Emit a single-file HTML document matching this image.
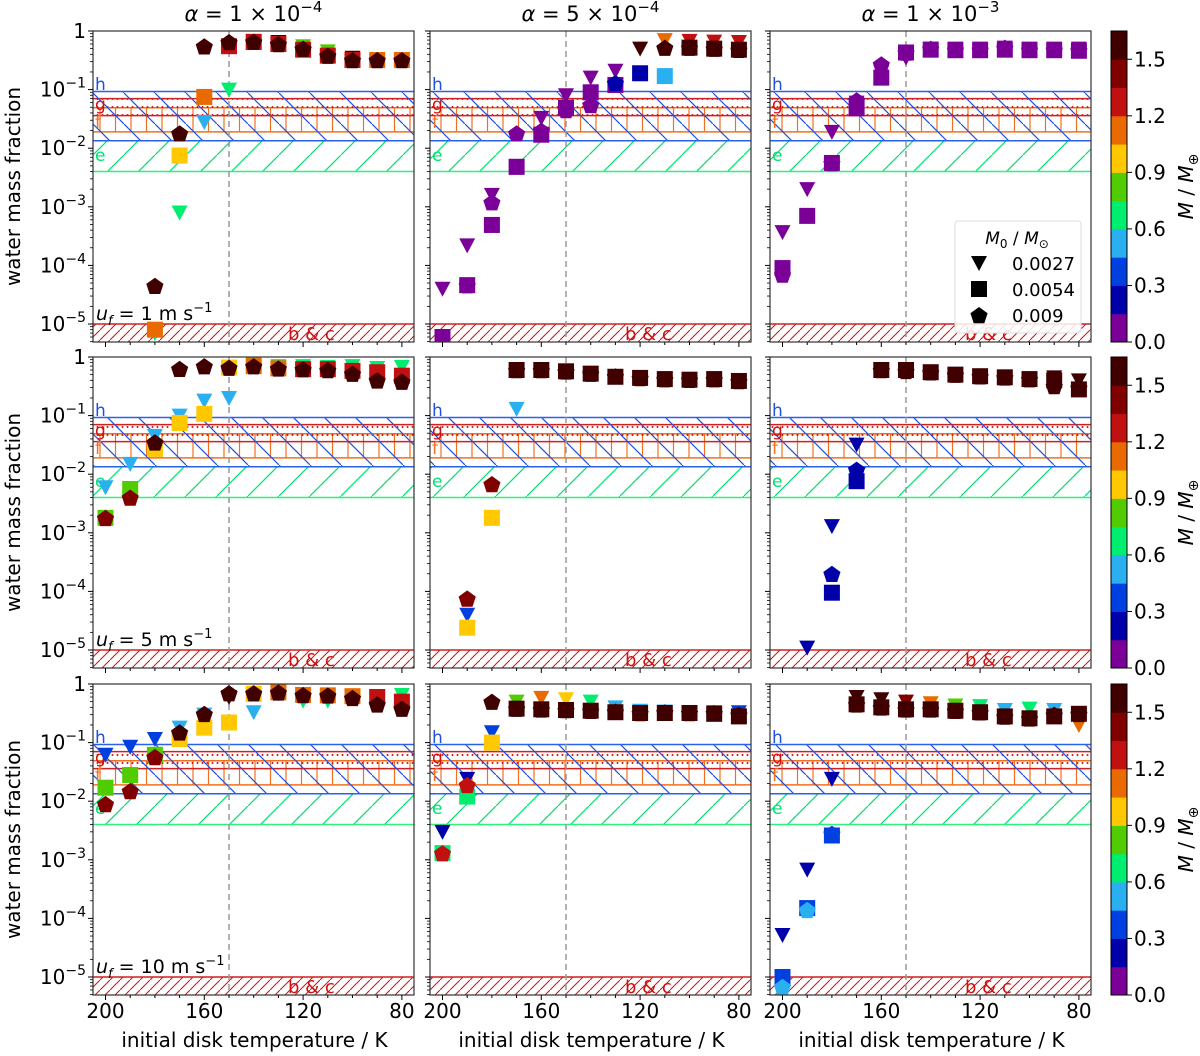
<!DOCTYPE html>
<html><head><meta charset="utf-8">
<style>
html,body{margin:0;padding:0;background:#fff;}
svg{display:block;font-family:"DejaVu Sans","Liberation Sans",sans-serif;}
</style></head>
<body>
<svg id="chart" width="1200" height="1056" viewBox="0 0 1200 1056" xmlns="http://www.w3.org/2000/svg">
<defs>
<pattern id="patH" patternUnits="userSpaceOnUse" width="31" height="31"><path d="M-1,-1 L32,32" stroke="#2050e0" stroke-width="1.2"/></pattern>
<pattern id="patE" patternUnits="userSpaceOnUse" width="31" height="31"><path d="M-1,32 L32,-1" stroke="#00e070" stroke-width="1.2"/></pattern>
<pattern id="patF" patternUnits="userSpaceOnUse" width="15.5" height="40"><path d="M7,0 L7,40" stroke="#f07020" stroke-width="1.2"/></pattern>
<pattern id="patG" patternUnits="userSpaceOnUse" width="5" height="8"><circle cx="2.5" cy="3" r="1" fill="#d01010"/></pattern>
<pattern id="patB" patternUnits="userSpaceOnUse" width="10" height="10"><path d="M-1,11 L11,-1" stroke="#d01010" stroke-width="1"/></pattern>
</defs>
</svg>
<script>
const temps = [200,190,180,170,160,150,140,130,120,110,100,90,80];
const triW = [
 [null,null,7e-6,8e-4,0.028,0.1,0.68,0.65,0.55,0.45,0.35,0.32,0.32],
 [4e-5,2.2e-4,1.6e-3,5e-3,0.033,0.08,0.16,0.21,0.5,0.7,0.68,0.66,0.65],
 [3.7e-4,2e-3,0.019,0.06,0.2,0.35,0.5,0.5,0.5,0.52,0.5,0.5,0.5],
 [6e-3,0.015,0.045,0.1,0.18,0.2,0.75,0.7,0.7,0.68,0.7,0.65,0.68],
 [null,4e-5,null,0.13,0.6,0.57,0.52,0.46,0.44,0.42,0.41,0.42,0.39],
 [null,1.1e-5,1.3e-3,0.032,0.6,0.6,0.55,0.5,0.47,0.45,0.42,0.45,0.4],
 [0.062,0.085,0.115,0.18,0.3,0.6,0.33,0.7,0.52,0.52,0.6,0.6,0.65],
 [3e-3,0.024,0.15,0.5,0.58,0.55,0.5,0.4,0.35,0.34,0.33,0.33,0.33],
 [5.2e-5,6.8e-4,0.024,0.6,0.55,0.5,0.47,0.43,0.42,0.36,0.38,0.36,0.2]
];
const triM = [
 [null,null,0.65,0.65,0.5,0.65,1.55,1.55,0.8,0.8,1.55,1.55,1.55],
 [0.05,0.05,0.05,0.05,0.05,0.05,0.05,0.05,1.55,1.1,1.25,1.25,1.25],
 [0.05,0.05,0.05,0.05,0.05,0.05,0.05,0.05,0.05,0.05,0.05,0.05,0.05],
 [0.5,0.5,0.5,0.5,0.5,0.5,0.65,0.65,0.65,0.65,0.65,0.65,0.65],
 [null,0.35,null,0.5,1.55,1.55,1.55,1.55,1.55,1.55,1.55,1.55,1.55],
 [null,0.2,0.2,0.2,1.55,1.55,1.55,1.55,1.55,1.55,1.55,1.55,1.55],
 [0.35,0.35,0.35,0.5,0.5,1.55,0.5,1.55,0.65,0.65,0.65,1.55,0.65],
 [0.2,0.2,0.35,0.8,1.1,0.95,0.65,0.5,0.5,0.5,0.5,0.35,0.35],
 [0.2,0.2,0.2,1.55,1.55,1.4,1.1,0.8,0.65,0.5,0.65,0.5,1.1]
];
const sqW = [
 [null,null,8e-6,0.0075,0.075,0.55,0.65,0.6,0.48,0.38,0.32,0.32,0.32],
 [6e-6,4.6e-5,4.9e-4,4.8e-3,0.017,0.049,0.09,0.12,0.19,0.17,0.52,0.5,0.48],
 [9e-5,7e-4,5.6e-3,0.048,0.16,0.43,0.48,0.47,0.47,0.48,0.47,0.47,0.46],
 [1.8e-3,5.6e-3,0.027,0.075,0.107,0.66,0.7,0.64,0.62,0.62,0.58,0.55,0.48],
 [null,2.4e-5,1.8e-3,0.6,0.6,0.57,0.52,0.46,0.44,0.42,0.41,0.42,0.39],
 [null,null,9.5e-5,7.6e-3,0.6,0.6,0.55,0.5,0.47,0.45,0.42,0.4,0.28],
 [0.017,0.028,0.062,0.115,0.18,0.22,0.68,0.72,0.65,0.64,0.62,0.6,0.5],
 [1.3e-3,0.012,0.1,0.38,0.37,0.36,0.35,0.33,0.32,0.32,0.32,0.31,0.28],
 [1e-5,1.5e-4,2.6e-3,0.45,0.4,0.37,0.37,0.35,0.33,0.28,0.26,0.28,0.31]
];
const sqM = [
 [null,null,1.1,0.95,1.1,1.25,1.25,1.25,1.25,1.25,1.25,1.1,1.1],
 [0.05,0.05,0.05,0.05,0.05,0.05,0.05,0.05,0.2,0.5,1.55,1.55,1.55],
 [0.05,0.05,0.05,0.05,0.05,0.05,0.05,0.05,0.05,0.05,0.05,0.05,0.05],
 [0.8,0.8,0.95,0.95,0.95,0.95,1.1,1.1,1.25,1.25,1.25,1.25,1.25],
 [null,0.95,0.95,1.55,1.55,1.55,1.55,1.55,1.55,1.55,1.55,1.55,1.55],
 [null,null,0.2,0.2,1.55,1.55,1.55,1.55,1.55,1.55,1.55,1.55,1.55],
 [0.8,0.8,0.8,0.95,0.95,0.95,0.95,1.1,1.1,1.1,1.1,1.25,1.25],
 [0.65,0.65,0.95,1.55,1.55,1.55,1.55,1.55,1.55,1.55,1.55,1.55,1.55],
 [0.35,0.35,0.35,1.55,1.55,1.55,1.55,1.55,1.55,1.55,1.55,1.55,1.55]
];
const penW = [
 [null,null,4.5e-5,0.018,0.55,0.65,0.66,0.6,0.5,0.38,0.32,0.32,0.32],
 [null,4.6e-5,1.2e-3,0.018,0.02,0.045,0.055,0.13,null,0.52,0.52,0.5,0.48],
 [7e-5,null,5.6e-3,0.066,0.27,0.43,0.5,0.48,0.48,0.52,0.48,0.48,0.47],
 [1.8e-3,4e-3,0.035,0.63,0.7,0.66,0.7,0.64,0.62,0.6,0.52,0.4,0.38],
 [null,7.6e-5,6.8e-3,0.6,0.6,0.57,0.52,0.47,0.44,0.42,0.41,0.42,0.39],
 [null,null,2e-4,0.012,0.6,0.58,0.55,0.5,0.47,0.45,0.42,0.32,0.3],
 [9e-3,0.015,0.057,0.15,0.31,0.7,0.7,0.72,0.65,0.64,0.58,0.45,0.38],
 [1.3e-3,0.019,0.5,0.38,0.37,0.36,0.35,0.34,0.32,0.33,0.32,0.32,0.3],
 [6.8e-6,1.4e-4,2.8e-3,0.45,0.4,0.37,0.37,0.35,0.33,0.28,0.26,0.3,0.31]
];
const penM = [
 [1.55,1.55,1.55,1.55,1.55,1.55,1.55,1.55,1.55,1.55,1.55,1.55,1.55],
 [0.05,0.05,0.05,0.05,0.05,0.05,0.05,0.2,1.55,1.55,1.55,1.55,1.55],
 [0.05,0.05,0.05,0.05,0.05,0.05,0.05,0.05,0.05,0.05,0.05,0.05,0.05],
 [1.4,1.4,1.55,1.55,1.55,1.55,1.55,1.55,1.55,1.55,1.55,1.55,1.55],
 [null,1.4,1.4,1.55,1.55,1.55,1.55,1.55,1.55,1.55,1.55,1.55,1.55],
 [null,null,0.2,0.2,1.55,1.55,1.55,1.55,1.55,1.55,1.55,1.55,1.55],
 [1.4,1.4,1.4,1.55,1.55,1.55,1.55,1.55,1.55,1.55,1.55,1.55,1.55],
 [1.25,1.25,1.55,1.55,1.55,1.55,1.55,1.55,1.55,1.55,1.55,1.55,1.55],
 [0.5,0.5,0.35,1.55,1.55,1.55,1.55,1.55,1.55,1.55,1.55,1.55,1.55]
];
const colTitles = ["1 × 10","5 × 10","1 × 10"];
const colExps = ["−4","−4","−3"];
const rowSpeeds = ["1","5","10"];
const xTicks = [200,160,120,80];
const cbTicks = [0.0,0.3,0.6,0.9,1.2,1.5];
const cmap = ['#7b0098','#0000aa','#0040e0','#2ab0f0','#00ee70','#50cc00','#ffc800','#e86a00','#c01010','#800000','#400000'];
const bandH = [0.093,0.0134], bandG = [0.07,0.036], bandF = [0.049,0.019], bandE = [0.0134,0.004], bandB = [1e-5];

const NS = "http://www.w3.org/2000/svg";
const svg = document.getElementById('chart');
function el(tag, attrs, parent, text){
  const e = document.createElementNS(NS, tag);
  for (const k in attrs) e.setAttribute(k, attrs[k]);
  if (text !== undefined) e.textContent = text;
  (parent||svg).appendChild(e);
  return e;
}
const colX = [93,430,770], rowY = [31,357,684], PW = 321, PH = 311, DEC = 58.6;
function xs(c,T){ return colX[c] + 12.5 + (200-T)*2.47; }
function ys(r,v){ return rowY[r] - Math.log10(v)*DEC; }
function mcol(m){ return cmap[Math.min(10, Math.max(0, Math.floor(m/0.15)))]; }

for (let r=0;r<3;r++) for (let c=0;c<3;c++){
  const p = r*3+c, L = colX[c], T0 = rowY[r], R = L+PW, B = T0+PH;
  const g = el('g', {});
  
  
  const cp = el('clipPath', {id:'clip'+p}, svg);
  el('rect', {x:L, y:T0, width:PW, height:PH}, cp);
  const inner = el('g', {'clip-path':'url(#clip'+p+')'}, g);
  function band(vals, fill, stroke, name){
    const y1 = ys(r, vals[0]), y2 = ys(r, vals[1]);
    const b = el('rect', {x:L, y:y1, width:PW, height:y2-y1, fill:fill}, inner);
    
    
    el('line', {x1:L, x2:R, y1:y1, y2:y1, stroke:stroke, 'stroke-width':1.5}, inner);
    el('line', {x1:L, x2:R, y1:y2, y2:y2, stroke:stroke, 'stroke-width':1.5}, inner);
  }
  band(bandE, 'url(#patE)', '#30f080', 'band-e');
  band(bandF, 'url(#patF)', '#f07020', 'band-f');
  band(bandG, 'url(#patG)', '#d02020', 'band-g');
  band(bandH, 'url(#patH)', '#2a60f0', 'band-h');
  const yb = ys(r, bandB[0]);
  const bc = el('rect', {x:L, y:yb, width:PW, height:B-yb, fill:'url(#patB)'}, inner);
  
  
  el('line', {x1:L, x2:R, y1:yb, y2:yb, stroke:'#d02020', 'stroke-width':1.5}, inner);
  const lbls = [['h','#2050e0',T0+59],['g','#d01010',T0+79],['f','#f07020',T0+97],['e','#00e070',T0+130]];
  lbls.forEach(lb=>{
    const t = el('text', {x:L+2, y:lb[2], fill:lb[1], 'font-size':17}, inner, lb[0]);
    
    
  });
  const bct = el('text', {x:L+195, y:B-2, fill:'#d01010', 'font-size':18}, inner, 'b & c');
  
  
  el('line', {x1:xs(c,150), x2:xs(c,150), y1:T0, y2:B, stroke:'#999', 'stroke-width':1.5, 'stroke-dasharray':'6,4'}, inner);
  temps.forEach((T,i)=>{
    if (triW[p][i]!=null){
      const x = xs(c,T), y = ys(r,triW[p][i]);
      const m = el('polygon', {points:(x-8)+','+(y-7)+' '+(x+8)+','+(y-7)+' '+x+','+(y+8), fill:mcol(triM[p][i])}, inner);
      
      
    }
  });
  temps.forEach((T,i)=>{
    if (sqW[p][i]!=null){
      const x = xs(c,T), y = ys(r,sqW[p][i]);
      const m = el('rect', {x:x-8, y:y-8, width:16, height:16, fill:mcol(sqM[p][i])}, inner);
      
      
    }
  });
  temps.forEach((T,i)=>{
    if (penW[p][i]!=null){
      const x = xs(c,T), y = ys(r,penW[p][i]);
      let pts = [];
      for (let k=0;k<5;k++){ const a = -Math.PI/2 + k*2*Math.PI/5; pts.push((x+9*Math.cos(a)).toFixed(1)+','+(y+1+9*Math.sin(a)).toFixed(1)); }
      const m = el('polygon', {points:pts.join(' '), fill:mcol(penM[p][i])}, inner);
      
      
    }
  });
  el('rect', {x:L, y:T0, width:PW, height:PH, fill:'none', stroke:'#333', 'stroke-width':1.2}, g);
  for (let d=0; d<=5; d++){
    const y = ys(r, Math.pow(10,-d));
    el('line', {x1:L-5, x2:L, y1:y, y2:y, stroke:'#000', 'stroke-width':1}, g);
    for (let k=2;k<10;k++){
      const yy = ys(r, k*Math.pow(10,-d-1));
      if (yy<=B) el('line', {x1:L-3, x2:L, y1:yy, y2:yy, stroke:'#000', 'stroke-width':0.8}, g);
    }
    if (c==0){
      const t = el('text', {x:L-7, y:y+7, 'text-anchor':'end', 'font-size':20, fill:'#000'}, g);
      
      
      if (d==0) t.textContent = '1';
      else { el('tspan', {}, t, '10'); el('tspan', {dy:-9, 'font-size':14}, t, '−'+d); }
    }
  }
  for (let T=200; T>=80; T-=10){
    const x = xs(c,T);
    el('line', {x1:x, x2:x, y1:B, y2:B+(T%40==0?5:3), stroke:'#000', 'stroke-width':1}, g);
  }
  if (r==2) xTicks.forEach(T=>{
    const t = el('text', {x:xs(c,T), y:B+23, 'text-anchor':'middle', 'font-size':20, fill:'#000'}, g, String(T));
    
    
  });
  if (c==0){
    const t = el('text', {x:L+3, y:B-22, 'font-size':19, fill:'#000'}, g);
    
    
    el('tspan', {'font-style':'italic'}, t, 'u');
    el('tspan', {dy:5, 'font-size':13, 'font-style':'italic'}, t, 'f');
    el('tspan', {dy:-5}, t, ' = '+rowSpeeds[r]+' m s');
    el('tspan', {dy:-8, 'font-size':13}, t, '−1');
  }
  if (r==0){
    const t = el('text', {x:L+PW/2, y:21, 'text-anchor':'middle', 'font-size':21, fill:'#000'}, g);
    
    
    el('tspan', {'font-style':'italic'}, t, 'α');
    el('tspan', {}, t, ' = '+colTitles[c]);
    el('tspan', {dy:-9, 'font-size':15}, t, colExps[c]);
  }
  if (r==2){
    const t = el('text', {x:L+PW/2+1, y:1047, 'text-anchor':'middle', 'font-size':20, fill:'#000'}, g, 'initial disk temperature / K');
    
    
  }
}
rowY.forEach((T0,r)=>{
  const t = el('text', {x:0, y:0, transform:'translate(20,'+(T0+PH/2)+') rotate(-90)', 'text-anchor':'middle', 'font-size':20, fill:'#000'}, svg, 'water mass fraction');
  
  
  const cb = el('g', {});
  
  
  const cx = 1111, cw = 16, vmax = 1.65;
  cmap.forEach((col,i)=>{
    const y1 = T0+PH - (i+1)*0.15/vmax*PH;
    el('rect', {x:cx, y:y1, width:cw, height:0.15/vmax*PH+0.5, fill:col}, cb);
  });
  el('rect', {x:cx, y:T0, width:cw, height:PH, fill:'none', stroke:'#000', 'stroke-width':1}, cb);
  cbTicks.forEach(v=>{
    const y = T0+PH - v/vmax*PH;
    el('line', {x1:cx+cw, x2:cx+cw+5, y1:y, y2:y, stroke:'#000'}, cb);
    const tl = el('text', {x:cx+cw+7, y:y+7, 'font-size':20, fill:'#000'}, cb, v.toFixed(1));
    
    
  });
  const ct = el('text', {x:0, y:0, transform:'translate(1193,'+(T0+PH/2)+') rotate(-90)', 'text-anchor':'middle', 'font-size':20, fill:'#000'}, cb);
  
  
  el('tspan', {'font-style':'italic'}, ct, 'M');
  el('tspan', {}, ct, ' / ');
  el('tspan', {'font-style':'italic'}, ct, 'M');
  el('tspan', {dy:5, 'font-size':14}, ct, '⊕');
});
const lg = el('g', {});


el('rect', {x:955, y:221, width:126, height:112, rx:3, fill:'#fff', 'fill-opacity':0.85, stroke:'#ddd'}, lg);
const lt = el('text', {x:1017, y:244, 'text-anchor':'middle', 'font-size':17, fill:'#000'}, lg);
el('tspan', {'font-style':'italic'}, lt, 'M');
el('tspan', {dy:4, 'font-size':12}, lt, '0');
el('tspan', {dy:-4}, lt, ' / ');
el('tspan', {'font-style':'italic'}, lt, 'M');
el('tspan', {dy:4, 'font-size':12}, lt, '⊙');
const legLabels = ['0.0027','0.0054','0.009'];
legLabels.forEach((s,i)=>{
  const y = 263 + i*26, x = 979;
  if (i==0) el('polygon', {points:(x-8)+','+(y-7)+' '+(x+8)+','+(y-7)+' '+x+','+(y+8), fill:'#000'}, lg);
  else if (i==1) el('rect', {x:x-8, y:y-8, width:16, height:16, fill:'#000'}, lg);
  else { let pts=[]; for (let k=0;k<5;k++){const a=-Math.PI/2+k*2*Math.PI/5; pts.push((x+9*Math.cos(a)).toFixed(1)+','+(y+1+9*Math.sin(a)).toFixed(1));} el('polygon',{points:pts.join(' '),fill:'#000'},lg); }
  const t = el('text', {x:1012, y:y+7, 'font-size':18, fill:'#000'}, lg, s);
  
  
});
</script>
</body></html>
